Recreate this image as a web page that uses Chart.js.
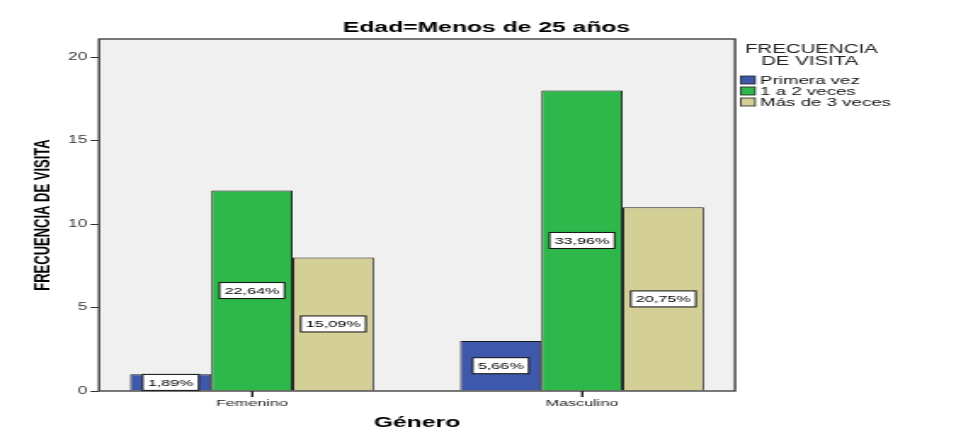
<!DOCTYPE html>
<html>
<head>
<meta charset="utf-8">
<script src="https://cdn.jsdelivr.net/npm/chart.js@4"></script>
<style>
  body { margin: 0; background: #fff; }
</style>
</head>
<body>
<!-- drawn narrow and stretched, the reference is a horizontally stretched SPSS export -->
<canvas id="c" width="572" height="439" style="width:973px;height:439px;display:block"></canvas>
<script>
const generos = ['Femenino', 'Masculino'];
const series = ['Primera vez', '1 a 2 veces', 'Más de 3 veces'];
const primeraVez = [1, 3];
const unoADos = [12, 18];
const masDeTres = [8, 11];
const porcentajes = [
    ['1,89%', '5,66%'],
    ['22,64%', '33,96%'],
    ['15,09%', '20,75%']
];
const yTicks = [0, 5, 10, 15, 20];

const colors = ['#3e58ac', '#2eb84b', '#d4ce97'];
const W = 572;
const areaLeft = 58.2;
const areaRight = 432.1;

Chart.defaults.font.family = "'Liberation Sans', Arial, sans-serif";

const toPoints = (vals) => vals.map((v, i) => ({ x: i, y: v }));

const plotFrame = {
    id: 'plotFrame',
    beforeDraw(chart) {
        const { ctx, chartArea: a } = chart;
        ctx.save();
        ctx.fillStyle = '#f0f0f0';
        ctx.fillRect(a.left, a.top, a.width, a.height);
        ctx.restore();
    },
    afterDatasetsDraw(chart) {
        const { ctx, chartArea: a } = chart;
        ctx.save();
        ctx.strokeStyle = '#333';
        ctx.lineWidth = 1.3;
        ctx.strokeRect(a.left, a.top, a.width, a.height);

        // category tick marks under the axis
        const xs = chart.scales.x;
        ctx.strokeStyle = '#222';
        ctx.lineWidth = 1;
        xs.ticks.forEach((t, i) => {
            const px = xs.getPixelForTick(i);
            ctx.beginPath();
            ctx.moveTo(px, a.bottom);
            ctx.lineTo(px, a.bottom + 6);
            ctx.stroke();
        });

        // percentage boxes in the middle of each bar
        ctx.font = '9.5px "Liberation Sans", Arial, sans-serif';
        ctx.textAlign = 'center';
        ctx.textBaseline = 'middle';
        chart.data.datasets.forEach((ds, di) => {
            chart.getDatasetMeta(di).data.forEach((bar, i) => {
                const txt = porcentajes[di][i];
                const cy = (bar.y + bar.base) / 2;
                const w = ctx.measureText(txt).width + 6;
                const h = 16;
                ctx.fillStyle = '#fff';
                ctx.fillRect(bar.x - w / 2, cy - h / 2, w, h);
                ctx.strokeStyle = '#111';
                ctx.lineWidth = 1;
                ctx.strokeRect(bar.x - w / 2, cy - h / 2, w, h);
                ctx.fillStyle = '#000';
                ctx.fillText(txt, bar.x, cy + 0.5);
            });
        });

        // title
        ctx.font = 'bold 14.5px "Liberation Sans", Arial, sans-serif';
        ctx.fillStyle = '#000';
        ctx.fillText('Edad=Menos de 25 años', W / 2, 27.5);

        // legend
        ctx.font = '12px "Liberation Sans", Arial, sans-serif';
        ctx.fillStyle = '#222';
        ctx.fillText('FRECUENCIA', 477, 50);
        ctx.fillText('DE VISITA', 476, 62);
        ctx.textAlign = 'left';
        ctx.font = '11px "Liberation Sans", Arial, sans-serif';
        series.forEach((name, i) => {
            const y = 80 + i * 11;
            ctx.fillStyle = colors[i];
            ctx.fillRect(435.4, y - 4, 8.5, 8);
            ctx.strokeStyle = '#222';
            ctx.lineWidth = 0.8;
            ctx.strokeRect(435.4, y - 4, 8.5, 8);
            ctx.fillStyle = '#111';
            ctx.fillText(name, 446.8, y + 0.5);
        });
        ctx.restore();
    }
};

new Chart(document.getElementById('c'), {
    type: 'bar',
    data: {
        datasets: [
            { label: series[0], data: toPoints(primeraVez), backgroundColor: colors[0] },
            { label: series[1], data: toPoints(unoADos), backgroundColor: colors[1] },
            { label: series[2], data: toPoints(masDeTres), backgroundColor: colors[2] }
        ]
    },
    options: {
        responsive: false,
        devicePixelRatio: 1,
        animation: false,
        layout: { padding: { top: 39, right: W - areaRight, left: 0, bottom: 0 } },
        datasets: {
            bar: { borderColor: '#1a1a1a', borderWidth: 1, categoryPercentage: 0.739, barPercentage: 1 }
        },
        plugins: {
            legend: { display: false },
            tooltip: { enabled: false },
            title: { display: false }
        },
        scales: {
            x: {
                type: 'linear',
                min: -0.4636,
                max: 1.4636,
                offset: false,
                afterFit: (s) => { s.height = 48; },
                border: { display: false },
                grid: { offset: false, drawOnChartArea: false, drawTicks: true, tickLength: 6, color: '#111', lineWidth: 1 },
                ticks: {
                    stepSize: 1,
                    includeBounds: false,
                    padding: 1,
                    color: '#222',
                    font: { size: 9.5 },
                    callback: (v) => generos[v] || ''
                },
                title: {
                    display: true,
                    text: 'Género',
                    color: '#000',
                    font: { size: 14.5, weight: 'bold' },
                    padding: { top: 0, bottom: 7.3 }
                }
            },
            y: {
                min: 0,
                max: 21.08,
                afterFit: (s) => { s.width = areaLeft; },
                afterBuildTicks: (s) => { s.ticks = yTicks.map(v => ({ value: v })); },
                border: { display: false },
                grid: { drawOnChartArea: false, drawTicks: true, tickLength: 5, color: '#333' },
                ticks: {
                    padding: 2,
                    color: '#333',
                    font: { size: 10 }
                },
                title: {
                    display: true,
                    text: 'FRECUENCIA DE VISITA',
                    color: '#000',
                    font: { size: 13, weight: 'bold' },
                    padding: { top: 17.2, bottom: 0 }
                }
            }
        }
    },
    plugins: [plotFrame]
});
</script>
</body>
</html>
